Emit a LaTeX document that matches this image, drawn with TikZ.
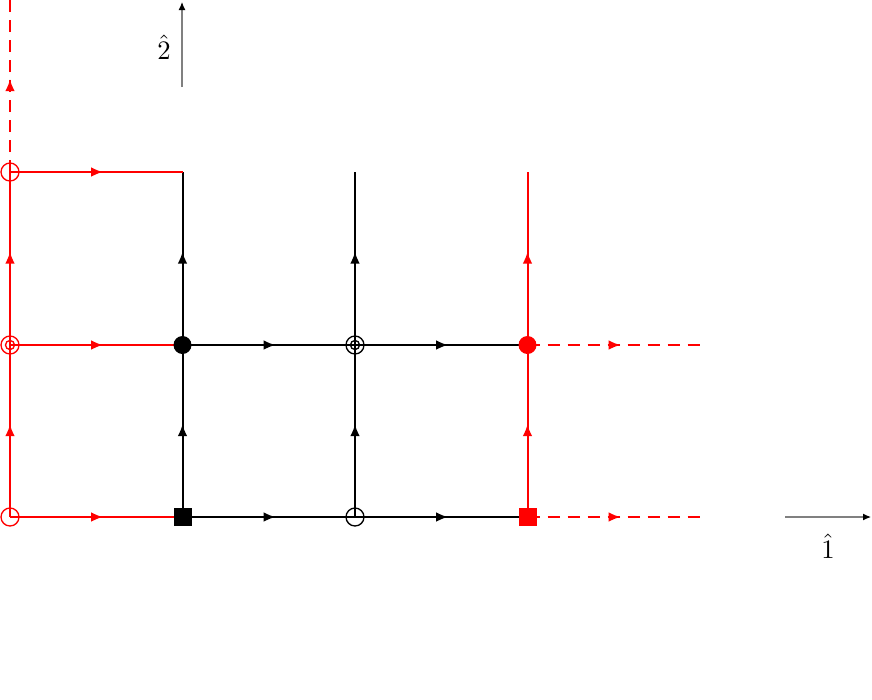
\documentclass[tikz,border=0pt]{standalone}
\usetikzlibrary{arrows.meta,decorations.markings}

\tikzset{every picture/.style={line width=0.75pt}}
\tikzset{
  midarrow/.style={postaction={decorate},decoration={markings,
      mark=at position 0.54 with {\arrow{Latex[length=4.5pt,width=3.6pt]}}}},
  dashline/.style={dash pattern=on 4.5pt off 3pt},
  fulldot/.style={circle,fill,inner sep=0pt,minimum size=6.75pt},
  fullsq/.style={rectangle,fill,inner sep=0pt,minimum size=6.75pt},
  opendot/.style={circle,draw,line width=0.5pt,inner sep=0pt,minimum size=6.75pt},
  innerdot/.style={circle,draw,line width=0.5pt,inner sep=0pt,minimum size=3.4pt},
  axisline/.style={draw=gray,line width=0.4pt,-{Latex[length=3pt,width=2.6pt,color=black]}}
}

\begin{document}
\begin{tikzpicture}[x=0.375pt,y=0.375pt,yscale=-1,xscale=1]
	\useasboundingbox (0,0) rectangle (872,699);

	% grid points
	\coordinate (p00) at (10,517);
	\coordinate (p10) at (182.5,517);
	\coordinate (p20) at (355,517);
	\coordinate (p30) at (527.5,517);
	\coordinate (p01) at (10,345);
	\coordinate (p11) at (182.5,345);
	\coordinate (p21) at (355,345);
	\coordinate (p31) at (527.5,345);
	\coordinate (p02) at (10,172);
	\coordinate (p12) at (182.5,172);
	\coordinate (p22) at (355,172);
	\coordinate (p32) at (527.5,172);
	% open ends
	\coordinate (e0) at (700,517);
	\coordinate (e1) at (700,345);
	\coordinate (et) at (10,0);

	% vertical links
	\draw [red,midarrow] (p00) -- (p01);
	\draw [red,midarrow] (p01) -- (p02);
	\draw [red,dashline,midarrow] (p02) -- (et);
	\draw [midarrow] (p10) -- (p11);
	\draw [midarrow] (p11) -- (p12);
	\draw [midarrow] (p20) -- (p21);
	\draw [midarrow] (p21) -- (p22);
	\draw [red,midarrow] (p30) -- (p31);
	\draw [red,midarrow] (p31) -- (p32);

	% horizontal links
	\draw [red,midarrow] (p00) -- (p10);
	\draw [midarrow] (p10) -- (p20);
	\draw [midarrow] (p20) -- (p30);
	\draw [red,dashline,midarrow] (p30) -- (e0);
	\draw [red,midarrow] (p01) -- (p11);
	\draw [midarrow] (p11) -- (p21);
	\draw [midarrow] (p21) -- (p31);
	\draw [red,dashline,midarrow] (p31) -- (e1);
	\draw [red,midarrow] (p02) -- (p12);

	% sites
	\node [opendot,red] (s00) at (p00) {};
	\node [opendot,red] (s01) at (p01) {};
	\node [innerdot,red] (s01i) at (p01) {};
	\node [opendot,red] (s02) at (p02) {};
	\node [fullsq] (s10) at (p10) {};
	\node [fulldot] (s11) at (p11) {};
	\node [opendot] (s20) at (p20) {};
	\node [opendot] (s21) at (p21) {};
	\node [innerdot] (s21i) at (p21) {};
	\node [fullsq,red] (s30) at (p30) {};
	\node [fulldot,red] (s31) at (p31) {};

	% axes
	\coordinate (a1s) at (785,517);
	\coordinate (a1e) at (871,517);
	\coordinate (a2s) at (182,87);
	\coordinate (a2e) at (182,2);
	\draw [axisline] (a1s) -- (a1e);
	\draw [axisline] (a2s) -- (a2e);
	\node (l1) at (828,546) {$\hat{1}$};
	\node (l2) at (164,47) {$\hat{2}$};

\end{tikzpicture}
\end{document}
